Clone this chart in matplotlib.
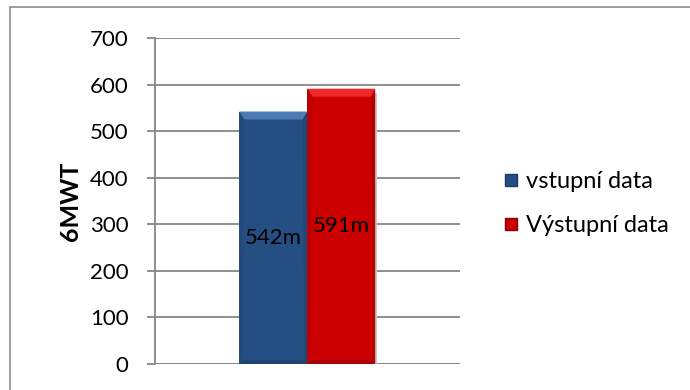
import matplotlib.pyplot as plt
from matplotlib.patches import Polygon, Rectangle
from matplotlib.lines import Line2D

# 6MWT result before and after
series = ['vstupní data', 'Výstupní data']
values = [542, 591]
value_labels = ['542m', '591m']
colors = ['#254F82', '#CC0000']
light = ['#4C7BB5', '#EE2A2A']
dark = ['#1B3A62', '#8E0000']

plt.rcParams['font.family'] = ['Lato', 'DejaVu Sans']

fig = plt.figure(figsize=(6.9, 3.9), dpi=100)
ax = fig.add_axes([0.2246, 0.0667, 0.442, 0.836])

# outer chart-area frame
fig.patches.append(Rectangle((10 / 690, -0.05), 1.0, 1 - 7 / 390 + 0.05,
                             transform=fig.transFigure, fill=False,
                             edgecolor='#8C8C8C', linewidth=1.2))

width = 0.223
xs = [-width / 2, width / 2]
bars = ax.bar(xs, values, width=width, color=colors, zorder=3, linewidth=0)

ax.set_xlim(-0.5, 0.5)
ax.set_ylim(0, 700)
ax.set_yticks(range(0, 701, 100))
ax.set_xticks([])

# bevel: lighter top, darker bottom, shaded sides
px_x = 1.0 / 305
px_y = 700 / 326
for b, c, lc, dc, lab in zip(bars, colors, light, dark, value_labels):
    x0, w, h = b.get_x(), b.get_width(), b.get_height()
    x1 = x0 + w
    bx, by = 5 * px_x, 8 * px_y
    sx, sy = 3 * px_x, 4 * px_y
    ax.add_patch(Polygon([(x0, h), (x1, h), (x1 - bx, h - by), (x0 + bx, h - by)],
                         closed=True, color=lc, zorder=4, linewidth=0))
    ax.add_patch(Polygon([(x0, 0), (x1, 0), (x1 - sx, sy), (x0 + sx, sy)],
                         closed=True, color=dc, alpha=0.5, zorder=4, linewidth=0))
    ax.add_patch(Polygon([(x1, 0), (x1, h), (x1 - bx, h - by), (x1 - sx, sy)],
                         closed=True, color=dc, alpha=0.35, zorder=4, linewidth=0))
    ax.add_patch(Polygon([(x0, 0), (x0, h), (x0 + bx, h - by), (x0 + sx, sy)],
                         closed=True, color=dc, alpha=0.2, zorder=4, linewidth=0))
    # soft shadow on the right
    ax.add_patch(Rectangle((x1, -3), 2 * px_x, h - 6, color='#C8C8C8', zorder=2, linewidth=0))
    ax.text(x0 + w / 2, h / 2, lab, ha='center', va='center', fontsize=16,
            color='black', zorder=5)

ax.grid(axis='y', color='#868686', linewidth=1.3, zorder=1)
for s in ['top', 'right', 'bottom']:
    ax.spines[s].set_visible(False)
ax.spines['left'].set_color('#868686')
ax.spines['left'].set_linewidth(1.3)
ax.axhline(0, color='#868686', linewidth=1.3, zorder=1)
ax.tick_params(axis='y', direction='out', length=6, width=1.3, color='#868686',
               pad=13, labelsize=16)
ax.set_ylabel('6MWT', fontsize=18, fontweight='bold', labelpad=6)

handles = [Line2D([], [], marker='s', linestyle='none', markersize=9,
                  markerfacecolor=c, markeredgecolor=d) for c, d in zip(colors, dark)]
fig.legend(handles, series, loc='center left', bbox_to_anchor=(0.692, 0.478),
           frameon=False, fontsize=17, labelspacing=0.95, handletextpad=0.15,
           handlelength=1.0)

fig.savefig('out.png', dpi=100)
